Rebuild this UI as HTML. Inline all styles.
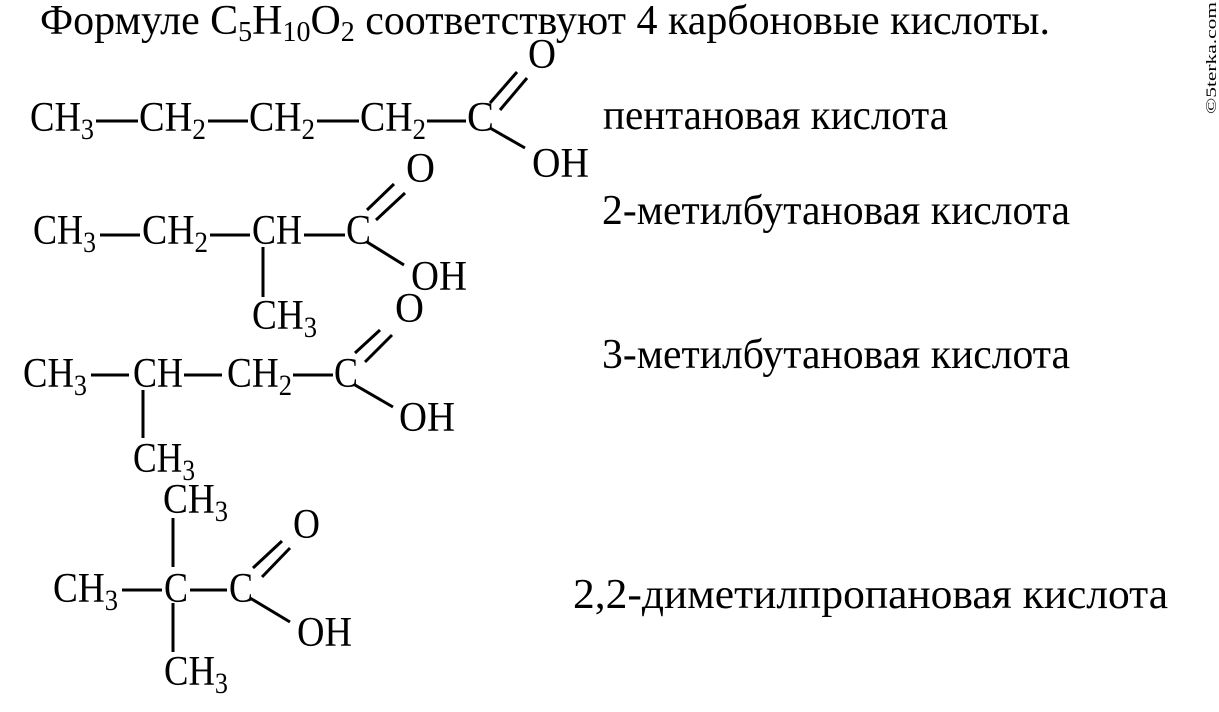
<!DOCTYPE html>
<html><head><meta charset="utf-8"><style>
html,body{margin:0;padding:0;background:#fff;}
svg{display:block;}
text{font-family:"Liberation Serif",serif;fill:#000;}
</style></head><body>
<svg width="1219" height="712" viewBox="0 0 1219 712" xmlns="http://www.w3.org/2000/svg">
<g font-size="42">
<text x="40" y="34" textLength="1010" lengthAdjust="spacingAndGlyphs">Формуле C<tspan font-size="28" dy="7">5</tspan><tspan dy="-7">H</tspan><tspan font-size="28" dy="7">10</tspan><tspan dy="-7">O</tspan><tspan font-size="28" dy="7">2</tspan><tspan dy="-7"> соответствуют 4 карбоновые кислоты.</tspan></text>
<text x="603" y="129" textLength="345" lengthAdjust="spacingAndGlyphs">пентановая кислота</text>
<text x="602" y="224" textLength="468" lengthAdjust="spacingAndGlyphs">2-метилбутановая кислота</text>
<text x="602" y="368" textLength="468" lengthAdjust="spacingAndGlyphs">3-метилбутановая кислота</text>
<text x="573" y="608" textLength="595" lengthAdjust="spacingAndGlyphs">2,2-диметилпропановая кислота</text>
</g>
<text transform="translate(1216,114) rotate(-90)" font-size="15" font-family="DejaVu Serif, serif" textLength="112" lengthAdjust="spacingAndGlyphs">©5terka.com</text>

<g font-size="42" stroke="none">
<!-- row 1 -->
<text x="30" y="131" textLength="64" lengthAdjust="spacingAndGlyphs">CH<tspan font-size="30" dy="8">3</tspan></text>
<text x="139" y="131" textLength="67" lengthAdjust="spacingAndGlyphs">CH<tspan font-size="30" dy="8">2</tspan></text>
<text x="249" y="131" textLength="66" lengthAdjust="spacingAndGlyphs">CH<tspan font-size="30" dy="8">2</tspan></text>
<text x="360" y="131" textLength="66" lengthAdjust="spacingAndGlyphs">CH<tspan font-size="30" dy="8">2</tspan></text>
<text x="467" y="131" textLength="27" lengthAdjust="spacingAndGlyphs">C</text>
<text x="528" y="68" textLength="28" lengthAdjust="spacingAndGlyphs">O</text>
<text x="532" y="177" textLength="57" lengthAdjust="spacingAndGlyphs">OH</text>
<!-- row 2 -->
<text x="33" y="244" textLength="63" lengthAdjust="spacingAndGlyphs">CH<tspan font-size="30" dy="8">3</tspan></text>
<text x="142" y="244" textLength="66" lengthAdjust="spacingAndGlyphs">CH<tspan font-size="30" dy="8">2</tspan></text>
<text x="252" y="244" textLength="50" lengthAdjust="spacingAndGlyphs">CH</text>
<text x="346" y="244" textLength="25" lengthAdjust="spacingAndGlyphs">C</text>
<text x="406" y="182" textLength="29" lengthAdjust="spacingAndGlyphs">O</text>
<text x="411" y="290" textLength="56" lengthAdjust="spacingAndGlyphs">OH</text>
<text x="252" y="329" textLength="65" lengthAdjust="spacingAndGlyphs">CH<tspan font-size="30" dy="8">3</tspan></text>
<!-- row 3 -->
<text x="23" y="387" textLength="64" lengthAdjust="spacingAndGlyphs">CH<tspan font-size="30" dy="8">3</tspan></text>
<text x="133" y="387" textLength="50" lengthAdjust="spacingAndGlyphs">CH</text>
<text x="227" y="387" textLength="65" lengthAdjust="spacingAndGlyphs">CH<tspan font-size="30" dy="8">2</tspan></text>
<text x="334" y="387" textLength="24" lengthAdjust="spacingAndGlyphs">C</text>
<text x="395" y="322" textLength="29" lengthAdjust="spacingAndGlyphs">O</text>
<text x="399" y="431" textLength="56" lengthAdjust="spacingAndGlyphs">OH</text>
<text x="133" y="472" textLength="62" lengthAdjust="spacingAndGlyphs">CH<tspan font-size="30" dy="8">3</tspan></text>
<!-- row 4 -->
<text x="163" y="513" textLength="65" lengthAdjust="spacingAndGlyphs">CH<tspan font-size="30" dy="8">3</tspan></text>
<text x="53" y="602" textLength="65" lengthAdjust="spacingAndGlyphs">CH<tspan font-size="30" dy="8">3</tspan></text>
<text x="164" y="602" textLength="24" lengthAdjust="spacingAndGlyphs">C</text>
<text x="229" y="602" textLength="24" lengthAdjust="spacingAndGlyphs">C</text>
<text x="293" y="538" textLength="27" lengthAdjust="spacingAndGlyphs">O</text>
<text x="297" y="646" textLength="55" lengthAdjust="spacingAndGlyphs">OH</text>
<text x="164" y="685" textLength="64" lengthAdjust="spacingAndGlyphs">CH<tspan font-size="30" dy="8">3</tspan></text>
</g>

<g stroke="#000" stroke-width="3" fill="none">
<line x1="96" y1="121" x2="138" y2="121"/>
<line x1="208" y1="121" x2="248" y2="121"/>
<line x1="317" y1="121" x2="359" y2="121"/>
<line x1="427" y1="121" x2="466" y2="121"/>
<line x1="490" y1="103" x2="517" y2="72"/>
<line x1="500" y1="110" x2="527" y2="78"/>
<line x1="490" y1="128" x2="525" y2="148"/>
<line x1="100" y1="235" x2="140" y2="235"/>
<line x1="210" y1="235" x2="250" y2="235"/>
<line x1="304" y1="235" x2="345" y2="235"/>
<line x1="367" y1="210" x2="394" y2="184"/>
<line x1="376" y1="220" x2="405" y2="193"/>
<line x1="367" y1="242" x2="404" y2="265"/>
<line x1="263" y1="247" x2="263" y2="297"/>
<line x1="91" y1="375" x2="129" y2="375"/>
<line x1="184" y1="375" x2="222" y2="375"/>
<line x1="293" y1="375" x2="333" y2="375"/>
<line x1="355" y1="353" x2="380" y2="330"/>
<line x1="365" y1="362" x2="392" y2="335"/>
<line x1="355" y1="385" x2="393" y2="407"/>
<line x1="143" y1="390" x2="143" y2="438"/>
<line x1="173" y1="518" x2="173" y2="567"/>
<line x1="122" y1="590" x2="162" y2="590"/>
<line x1="190" y1="590" x2="227" y2="590"/>
<line x1="253" y1="568" x2="282" y2="541"/>
<line x1="262" y1="577" x2="290" y2="548"/>
<line x1="250" y1="598" x2="290" y2="622"/>
<line x1="173" y1="603" x2="173" y2="652"/>
</g>
</svg>
</body></html>
